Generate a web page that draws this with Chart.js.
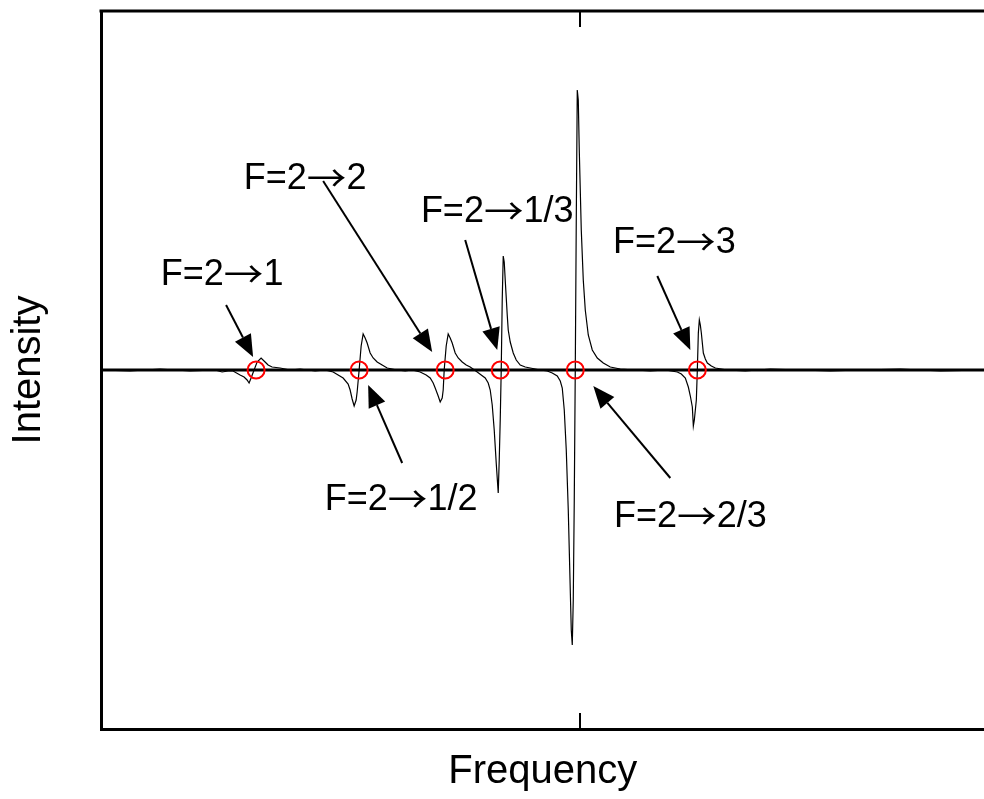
<!DOCTYPE html>
<html>
<head>
<meta charset="utf-8">
<script src="https://cdn.jsdelivr.net/npm/chart.js@4.4.0/dist/chart.umd.min.js"></script>
<style>
  html, body { margin: 0; padding: 0; background: #fff; overflow: hidden; }
  #wrap { width: 984px; height: 799px; overflow: hidden; }
</style>
</head>
<body>
<div id="wrap"><canvas id="spectrum" width="995" height="799"></canvas></div>
<script>
// Frequency offset (arb. units) and signal (arb. units) of the measured trace
const freq = [
  -479, -450, -420, -390, -365, -358, -352, -347,
  -340, -336, -333, -331, -329, -326, -323, -319, -315, -312, -308, -300, -290, -280, -265, -255, -247,
  -237, -232, -230, -228, -226, -224, -223, -221, -219, -217, -215, -213, -210, -207, -203, -198, -193, -183, -175, -168, -160,
  -154, -150, -147, -145, -142, -140, -138, -137, -136, -134, -132, -130, -128, -125, -122, -118, -114, -110, -103,
  -99, -95, -92, -90, -88, -86, -84, -82, -81, -80, -79, -78, -77, -76, -75, -73, -72, -70, -67, -64, -60, -55, -50, -40, -33,
  -28, -23, -20, -18, -16, -14, -12, -10, -9, -8, -7, -6, -5, -4, -3, -2, -1, 1, 3, 5, 8, 12, 17, 23, 30, 40, 55, 70, 85, 97,
  101, 105, 108, 110, 112, 113, 114, 116, 117, 118, 119, 120, 121, 123, 125, 127, 131, 135, 147, 165, 190, 220, 250, 280, 320, 360, 404
];
const signal = [
  0, -1, 1, -1, 0, -2, -1, -1,
  -5, -7, -10, -13, -8, 0, 8, 12, 8, 5, 3, 2, 0, 1, -1, 0, -2,
  -8, -14, -20, -29, -36, -30, -22, 0, 24, 36, 32, 27, 17, 12, 8, 5, 2, 0, -1, 0, -2,
  -5, -8, -13, -18, -26, -32, -28, -20, 0, 24, 36, 32, 27, 17, 12, 8, 5, 3, -2,
  -5, -8, -13, -20, -35, -60, -93, -123, -90, -50, 0, 70, 114, 108, 90, 55, 40, 28, 17, 10, 5, 3, 2, 0, -1,
  -3, -6, -11, -18, -40, -80, -140, -220, -260, -275, -230, -130, 0, 150, 280, 270, 220, 140, 90, 60, 35, 20, 12, 7, 3, 1, 0, -1, 0, -2,
  -4, -8, -17, -26, -37, -56, -50, -30, 0, 37, 50, 45, 37, 17, 11, 7, 4, 2, 0, -1, 1, 0, -1, 0, 1, -1, 0
];

// Zero crossings of the hyperfine transitions
const lineCentres = [-324, -221, -135, -80, -5, 117];

// Transition labels: text position and arrow (tail -> head)
const labelText = ['F=2\u21921', 'F=2\u21922', 'F=2\u21921/3', 'F=2\u21923', 'F=2\u21921/2', 'F=2\u21922/3'];
const labelX = [-358, -275, -83, 94, -179, 110];
const labelY = [85, 181, 148, 117, -140, -157];
const arrowTailX = [-354, -257, -115, 77, -178, 90];
const arrowTailY = [65, 189, 130, 94, -93, -108];
const arrowHeadX = [-327, -148, -83, 110, -212, 13];
const arrowHeadY = [13, 18, 20, 20, -15, -16];

const xTicks = [0];
const xMin = -479, xMax = 404;
const yMin = -359, yMax = 359;

const FONT = "'Liberation Sans', Arial, sans-serif";
const ARROW_FONT = "'Noto Sans CJK JP', 'DejaVu Sans', sans-serif";
const ARROW_STRETCH = 1.1;

const spectrumData = freq.map((f, i) => ({ x: f, y: signal[i] }));
const baselineData = [{ x: xMin, y: 0 }, { x: xMax, y: 0 }];
const centreData = lineCentres.map(c => ({ x: c, y: 0 }));

function drawArrow(ctx, x1, y1, x2, y2) {
  const ang = Math.atan2(y2 - y1, x2 - x1);
  const headLen = 22, headHalf = 9;
  const bx = x2 - headLen * Math.cos(ang);
  const by = y2 - headLen * Math.sin(ang);
  ctx.beginPath();
  ctx.moveTo(x1, y1);
  ctx.lineTo(bx, by);
  ctx.stroke();
  ctx.beginPath();
  ctx.moveTo(x2, y2);
  ctx.lineTo(bx + headHalf * Math.sin(ang), by - headHalf * Math.cos(ang));
  ctx.lineTo(bx - headHalf * Math.sin(ang), by + headHalf * Math.cos(ang));
  ctx.closePath();
  ctx.fill();
}

// label text; the arrow glyph comes from a font with a long thin one, stretched a bit
function drawLabel(ctx, txt, cx, baseY) {
  const parts = txt.split('\u2192');
  const main = '36px ' + FONT, arrowFont = '36px ' + ARROW_FONT;
  ctx.font = main;
  const w0 = ctx.measureText(parts[0]).width;
  const w2 = ctx.measureText(parts[1]).width;
  ctx.font = arrowFont;
  const w1 = ctx.measureText('\u2192').width * ARROW_STRETCH;
  const x0 = cx - (w0 + w1 + w2) / 2;
  ctx.textAlign = 'left';
  ctx.textBaseline = 'alphabetic';
  ctx.font = main;
  ctx.fillText(parts[0], x0, baseY);
  ctx.save();
  ctx.translate(x0 + w0, baseY + 3);
  ctx.scale(ARROW_STRETCH, 1);
  ctx.font = arrowFont;
  ctx.fillText('\u2192', 0, 0);
  ctx.restore();
  ctx.font = main;
  ctx.fillText(parts[1], x0 + w0 + w1, baseY);
}

const decorations = {
  id: 'decorations',
  afterDatasetsDraw(chart) {
    const { ctx, chartArea: a, scales: { x, y } } = chart;
    ctx.save();
    ctx.strokeStyle = '#000';
    ctx.fillStyle = '#000';

    // top frame line
    ctx.lineWidth = 3;
    ctx.beginPath();
    ctx.moveTo(a.left - 1.5, a.top);
    ctx.lineTo(a.right, a.top);
    ctx.stroke();

    // inward tick marks
    ctx.lineWidth = 2;
    xTicks.forEach(t => {
      const px = Math.round(x.getPixelForValue(t));
      ctx.beginPath();
      ctx.moveTo(px, a.top);
      ctx.lineTo(px, a.top + 16);
      ctx.moveTo(px, a.bottom);
      ctx.lineTo(px, a.bottom - 16);
      ctx.stroke();
    });

    // arrows
    ctx.lineWidth = 2;
    labelText.forEach((_, i) => {
      drawArrow(ctx,
        x.getPixelForValue(arrowTailX[i]), y.getPixelForValue(arrowTailY[i]),
        x.getPixelForValue(arrowHeadX[i]), y.getPixelForValue(arrowHeadY[i]));
    });

    // labels
    labelText.forEach((txt, i) => {
      drawLabel(ctx, txt, x.getPixelForValue(labelX[i]), y.getPixelForValue(labelY[i]));
    });
    ctx.restore();
  }
};

new Chart(document.getElementById('spectrum'), {
  type: 'scatter',
  data: {
    datasets: [
      {
        label: 'centres',
        data: centreData,
        showLine: false,
        pointRadius: 8.5,
        pointBorderWidth: 2,
        pointBorderColor: '#ff0000',
        pointBackgroundColor: 'rgba(0,0,0,0)'
      },
      {
        label: 'baseline',
        data: baselineData,
        showLine: true,
        borderColor: '#000',
        borderWidth: 3,
        pointRadius: 0
      },
      {
        label: 'spectrum',
        data: spectrumData,
        showLine: true,
        borderColor: '#000',
        borderWidth: 1.2,
        pointRadius: 0,
        tension: 0
      }
    ]
  },
  options: {
    responsive: false,
    animation: false,
    layout: { padding: { top: 11, left: 0, right: 0, bottom: 0 } },
    plugins: { legend: { display: false }, tooltip: { enabled: false } },
    scales: {
      x: {
        type: 'linear',
        min: xMin,
        max: xMax,
        grid: { display: false, drawTicks: false },
        ticks: { display: false },
        border: { display: true, color: '#000', width: 3 },
        title: {
          display: true,
          text: 'Frequency',
          color: '#000',
          font: { family: FONT, size: 40 },
          padding: { top: 19, bottom: 3 }
        }
      },
      y: {
        type: 'linear',
        min: yMin,
        max: yMax,
        grid: { display: false, drawTicks: false },
        ticks: { display: false },
        border: { display: true, color: '#000', width: 3 },
        title: {
          display: true,
          text: 'Intensity',
          color: '#000',
          font: { family: FONT, size: 40 },
          padding: { top: 5, bottom: 48 }
        }
      }
    }
  },
  plugins: [decorations]
});
</script>
</body>
</html>
